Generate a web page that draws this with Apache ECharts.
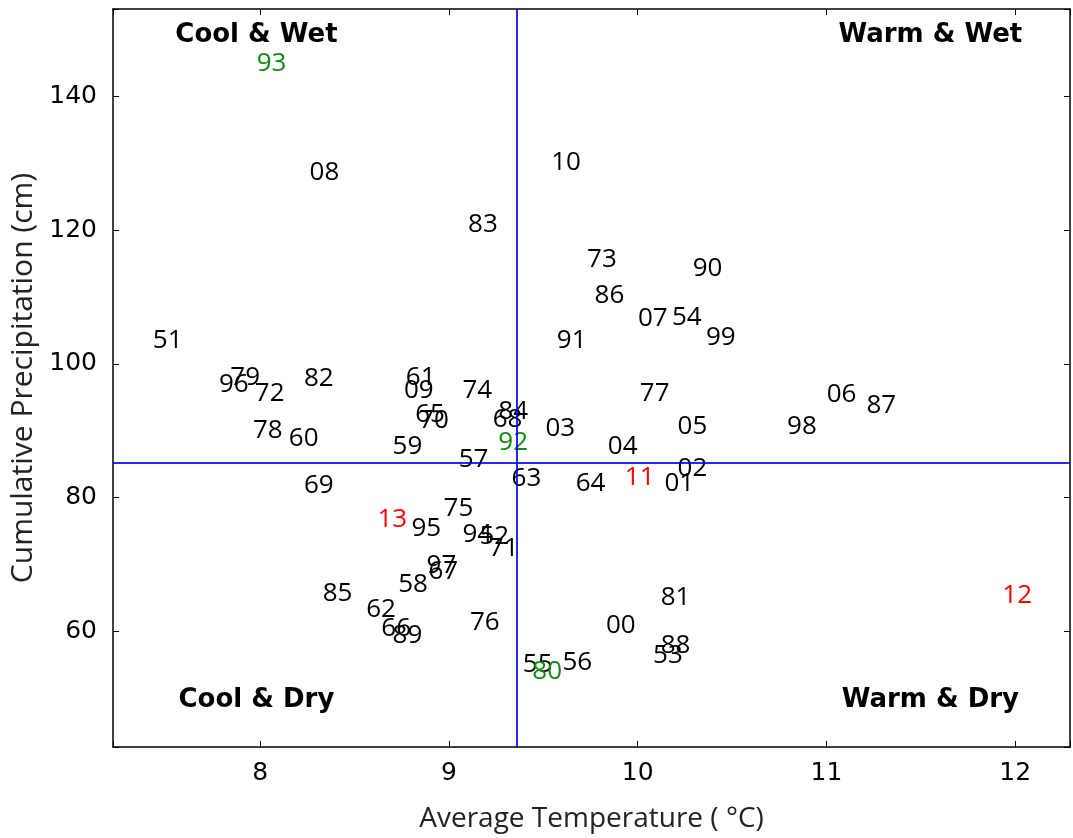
<!DOCTYPE html>
<html>
<head>
<meta charset="utf-8">
<script src="https://cdn.jsdelivr.net/npm/echarts@6/dist/echarts.min.js"></script>
<style>html,body{margin:0;padding:0;background:#fff}#c{width:1073px;height:838px}</style>
</head>
<body>
<div id="c"></div>
<script>
// Year labels (two-digit), average temperature (°C), cumulative precipitation (cm)
const years = ['93','08','10','83','73','90','86','07','54','99','51','91','79','96','72','82','61','09','74','65','70','84','68','92','03','77','05','98','06','87','78','60','59','57','04','63','64','11','02','01','69','75','13','95','94','52','71','97','67','58','85','62','66','89','76','55','80','56','00','81','88','53','12'];
const temps = [8.06,8.34,9.62,9.18,9.81,10.37,9.85,10.08,10.26,10.44,7.51,9.65,7.92,7.86,8.05,8.31,8.85,8.84,9.15,8.90,8.92,9.34,9.31,9.34,9.59,10.09,10.29,10.87,11.08,11.29,8.04,8.23,8.78,9.13,9.92,9.41,9.75,10.01,10.29,10.22,8.31,9.05,8.70,8.88,9.15,9.24,9.29,8.96,8.97,8.81,8.41,8.64,8.72,8.78,9.19,9.47,9.52,9.68,9.91,10.20,10.20,10.16,12.01];
const precips = [144.9,128.6,130.1,120.8,115.6,114.2,110.3,106.8,106.9,104.0,103.5,103.5,97.9,96.9,95.6,97.8,97.9,96.0,96.0,92.5,91.6,92.8,91.7,88.3,90.4,95.6,90.7,90.6,95.4,93.7,90.0,88.8,87.7,85.7,87.6,82.9,82.1,83.0,84.4,82.1,81.8,78.4,76.7,75.4,74.5,74.2,72.4,69.9,68.9,67.0,65.6,63.2,60.4,59.4,61.3,55.0,54.0,55.3,60.9,65.0,57.9,56.3,65.3];
const greenYears = ['80','92','93'];
const redYears = ['11','12','13'];
// Means (reference lines)
const meanTemp = 9.36;
const meanPrecip = 85.24;
// Quadrant annotations
const quadNames = ['Cool & Wet','Warm & Wet','Cool & Dry','Warm & Dry'];
const quadX = [7.98, 11.55, 7.98, 11.55];
const quadY = [149.1, 149.1, 49.7, 49.7];
// Axis ranges and ticks
const xRange = [7.22, 12.29];
const yRange = [42.7, 153.1];
const xTicks = [8, 9, 10, 11, 12];
const yTicks = [60, 80, 100, 120, 140];

function colorOf(y){
  if (greenYears.includes(y)) return '#108a10';
  if (redYears.includes(y)) return '#ff0000';
  return '#000000';
}
const pts = years.map((y,i)=>({
  name:y, value:[temps[i], precips[i]],
  label:{color:colorOf(y)}
}));
const quads = quadNames.map((n,i)=>({name:n, value:[quadX[i], quadY[i]]}));

const axisLineStyle = {color:'#000', width:1.5};
const chart = echarts.init(document.getElementById('c'), null, {renderer:'canvas'});
chart.setOption({
  animation:false,
  backgroundColor:'#fff',
  grid:{left:113, top:9, right:-2, bottom:80, containLabel:false},
  xAxis:[{
    type:'value', min:xRange[0], max:xRange[1], splitNumber:5,
    axisLine:{show:true, onZero:false, lineStyle:axisLineStyle},
    axisTick:{show:true, inside:true, length:6, lineStyle:{color:'#000', width:1}},
    splitLine:{show:false},
    axisLabel:{margin:14, fontFamily:'DejaVu Sans', fontSize:25, color:'#000',
      formatter:v=> xTicks.includes(Math.round(v*1000)/1000) ? String(v) : ''},
    name:'Average Temperature ( °C)', nameLocation:'middle', nameGap:58,
    nameTextStyle:{fontFamily:'Open Sans', fontSize:28, color:'#222'}
  },{
    type:'value', position:'top', min:xRange[0], max:xRange[1], splitNumber:5,
    axisLine:{show:true, onZero:false, lineStyle:axisLineStyle},
    axisTick:{show:true, inside:true, length:6, lineStyle:{color:'#000', width:1}},
    splitLine:{show:false}, axisLabel:{show:false}
  }],
  yAxis:[{
    type:'value', min:yRange[0], max:yRange[1], splitNumber:5,
    axisLine:{show:true, onZero:false, lineStyle:axisLineStyle},
    axisTick:{show:true, inside:true, length:6, lineStyle:{color:'#000', width:1}},
    splitLine:{show:false},
    axisLabel:{margin:16, fontFamily:'DejaVu Sans', fontSize:25, color:'#000',
      formatter:v=> yTicks.includes(Math.round(v*1000)/1000) ? String(v) : ''},
    name:'Cumulative Precipitation (cm)', nameLocation:'middle', nameGap:66,
    nameTextStyle:{fontFamily:'Open Sans', fontSize:30, color:'#222'}
  },{
    type:'value', position:'right', min:yRange[0], max:yRange[1], splitNumber:5,
    axisLine:{show:true, onZero:false, lineStyle:axisLineStyle},
    axisTick:{show:true, inside:true, length:6, lineStyle:{color:'#000', width:1}},
    splitLine:{show:false}, axisLabel:{show:false}
  }],
  series:[{
    type:'scatter', xAxisIndex:0, yAxisIndex:0,
    symbolSize:1, itemStyle:{color:'rgba(0,0,0,0)', opacity:1},
    data:pts,
    label:{show:true, position:'inside', formatter:p=>p.name,
      fontFamily:'Open Sans', fontSize:26, align:'center', verticalAlign:'middle'},
    labelLayout:{hideOverlap:false},
    markLine:{silent:true, symbol:['none','none'], label:{show:false},
      lineStyle:{color:'#0000ff', width:2, type:'solid', opacity:0.85},
      data:[{xAxis:meanTemp},{yAxis:meanPrecip}]},
    z:3
  },{
    type:'scatter', xAxisIndex:0, yAxisIndex:0,
    symbolSize:1, itemStyle:{color:'rgba(0,0,0,0)', opacity:1},
    data:quads,
    label:{show:true, position:'inside', formatter:p=>p.name,
      fontFamily:'DejaVu Sans', fontWeight:'bold', fontSize:26, color:'#000',
      align:'center', verticalAlign:'middle'},
    z:4
  }]
});
</script>
</body>
</html>
